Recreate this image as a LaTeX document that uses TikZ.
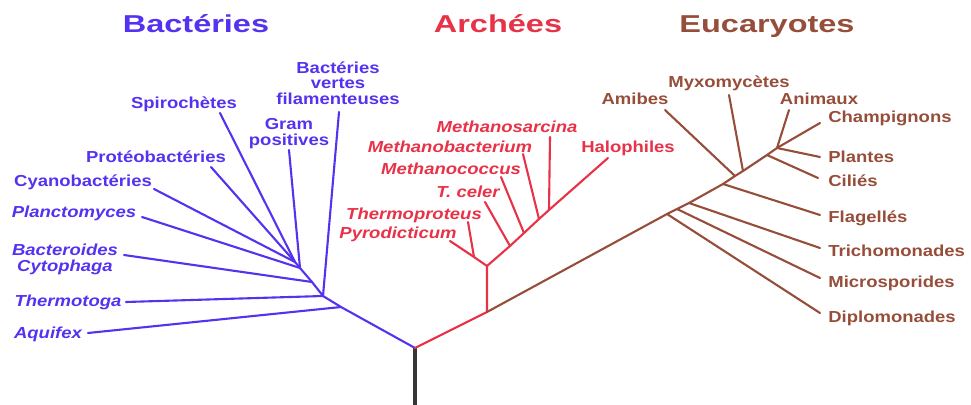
\documentclass[tikz,border=0pt]{standalone}
\usepackage{fontspec}
\newfontfamily\polT[FakeStretch=1.33]{Liberation Sans}
\newfontfamily\polE[FakeStretch=1.16]{Liberation Sans}
\definecolor{bleuB}{RGB}{85,50,240}
\definecolor{rougeA}{RGB}{232,50,72}
\definecolor{brunE}{RGB}{150,78,58}
\definecolor{tige}{RGB}{55,55,55}
\tikzset{
	titre/.style={font=\polT\bfseries\fontsize{13.9}{14}\selectfont,inner sep=0pt,anchor=base},
	etiq/.style={font=\polE\bfseries\fontsize{9.07}{9.07}\selectfont,inner sep=0pt,align=center,anchor=base},
	etiqit/.style={etiq,font=\polE\bfseries\itshape\fontsize{9.07}{9.07}\selectfont},
	branche/.style={line width=1.2pt,line cap=round,line join=round}
}
\begin{document}
\begin{tikzpicture}[x=0.02cm,y=-0.02cm]
	% Cadre de l'image (en pixels)
	\useasboundingbox (0,0) rectangle (971,405);
%
% Tronc commun et noeuds principaux
	\coordinate (pied) at (415,405);
	\coordinate (racine) at (415,348);
	\coordinate (nA) at (487,312);
	\coordinate (nA2) at (487,266);
	\draw[tige,line width=1.8pt] (pied) -- (racine);
%
% Titres des trois domaines
	\node[titre,text=bleuB] (tBact) at (196,33) {Bactéries};
	\node[titre,text=rougeA] (tArch) at (498,33) {Archées};
	\node[titre,text=brunE] (tEuca) at (767,33) {Eucaryotes};
%
% Bacteries
	\coordinate (b1) at (341,307);
	\coordinate (b2) at (323,296);
	\coordinate (b3) at (312,282);
	\coordinate (b4) at (300,268);
	\coordinate (b5) at (295,262);
	\draw[branche,bleuB] (racine) -- (b1) -- (b2) -- (b3) -- (b4) -- (b5);
	\foreach \n/\x/\y/\j in {aqui/88/333/b1,thermo/126/302/b2,vertes/339/112/b2,bacte/124/255/b3,gram/289/150/b4,planc/142/217/b4,cyano/154/189/b5,proteo/211/167/b5,spiro/220/113/b5}{
		\coordinate (e\n) at (\x,\y);
		\draw[branche,bleuB] (\j) -- (e\n);
	};
	\node[etiq,text=bleuB,anchor=north] (lVertes) at (338,61) {Bactéries\\vertes\\filamenteuses};
	\node[etiq,text=bleuB] (lSpiro) at (184,109) {Spirochètes};
	\node[etiq,text=bleuB,anchor=north] (lGram) at (289,118) {Gram\\positives};
	\node[etiq,text=bleuB] (lProteo) at (156,163) {Protéobactéries};
	\node[etiq,text=bleuB] (lCyano) at (83,187) {Cyanobactéries};
	\node[etiqit,text=bleuB] (lPlanc) at (74,218) {Planctomyces};
	\node[etiqit,text=bleuB,anchor=north] (lBacte) at (65,244) {Bacteroides\\Cytophaga};
	\node[etiqit,text=bleuB] (lThermo) at (68,307) {Thermotoga};
	\node[etiqit,text=bleuB] (lAqui) at (48,339) {Aquifex};
%
% Archees
	\coordinate (a1) at (474,257);
	\coordinate (a2) at (510,246);
	\coordinate (a3) at (524,233);
	\coordinate (a4) at (539,219);
	\coordinate (a5) at (549,210);
	\coordinate (ehalo) at (608,158);
	\coordinate (epyro) at (450,241);
	\draw[branche,rougeA] (racine) -- (nA) -- (nA2);
	\draw[branche,rougeA] (nA2) -- (a1) -- (epyro);
	\draw[branche,rougeA] (nA2) -- (a2) -- (a3) -- (a4) -- (a5) -- (ehalo);
	\foreach \n/\x/\y/\j in {tprot/468/222/a1,celer/485/202/a2,cocc/501/177/a3,bacter/523/154/a4,sarc/550/137/a5}{
		\coordinate (e\n) at (\x,\y);
		\draw[branche,rougeA] (\j) -- (e\n);
	};
	\node[etiqit,text=rougeA] (lSarc) at (507,133) {Methanosarcina};
	\node[etiqit,text=rougeA] (lBacter) at (450,153) {Methanobacterium};
	\node[etiqit,text=rougeA] (lCocc) at (451,175) {Methanococcus};
	\node[etiqit,text=rougeA] (lCeler) at (468,198) {T. celer};
	\node[etiqit,text=rougeA] (lTprot) at (414,220) {Thermoproteus};
	\node[etiqit,text=rougeA] (lPyro) at (398,239) {Pyrodicticum};
	\node[etiq,text=rougeA] (lHalo) at (628,153) {Halophiles};
%
% Eucaryotes
	\coordinate (u1) at (667,214);
	\coordinate (u2) at (677,209);
	\coordinate (u3) at (689,203);
	\coordinate (u4) at (723,184);
	\coordinate (u5) at (735,176);
	\coordinate (u6) at (743,171);
	\coordinate (u7) at (767,155);
	\coordinate (u8) at (777,148);
	\coordinate (echamp) at (820,123);
	\draw[branche,brunE] (nA) -- (u1) -- (u2) -- (u3) -- (u4) -- (u5) -- (u6) -- (u7) -- (u8) -- (echamp);
	\foreach \n/\x/\y/\j in {diplo/820/313/u1,micro/820/278/u2,tricho/820/248/u3,flag/820/215/u4,amib/665/110/u5,myxo/729/95/u6,cilie/818/178/u7,plant/820/157/u8,anim/789/110/u8}{
		\coordinate (e\n) at (\x,\y);
		\draw[branche,brunE] (\j) -- (e\n);
	};
	\node[etiq,text=brunE] (lAmib) at (635,105) {Amibes};
	\node[etiq,text=brunE] (lMyxo) at (729,88) {Myxomycètes};
	\node[etiq,text=brunE] (lAnim) at (819,105) {Animaux};
	\foreach \n/\y/\t in {Champ/123/Champignons,Plant/163/Plantes,Cilie/187/Ciliés,Flag/223/Flagellés,Tricho/257/Trichomonades,Micro/288/Microsporides,Diplo/323/Diplomonades}{
		\node[etiq,text=brunE,anchor=base west] (l\n) at (828,\y) {\t};
	};

\end{tikzpicture}
\end{document}
